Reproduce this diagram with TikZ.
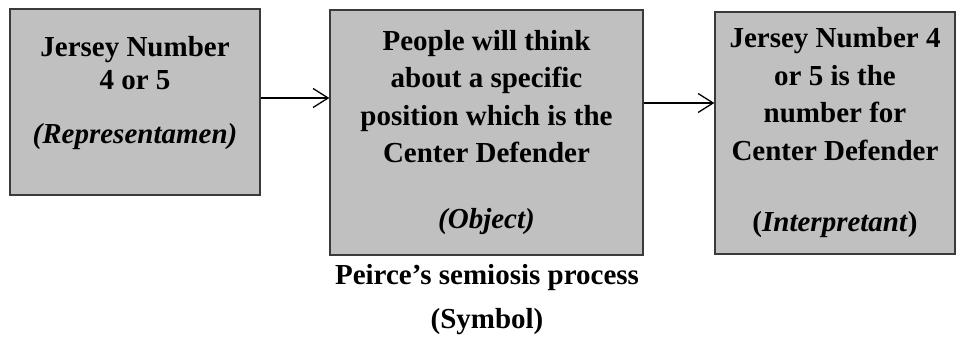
\documentclass[tikz,border=0pt]{standalone}
\usepackage{fontspec}
\setmainfont{Liberation Serif}
\usetikzlibrary{arrows.meta}
\definecolor{boxgray}{HTML}{C0C0C0}
\definecolor{boxline}{HTML}{3A3A3A}
\tikzset{
  signbox/.style={draw=boxline,line width=1.4pt,fill=boxgray,align=center,
    inner sep=0pt,font=\fontsize{29}{37.5}\selectfont\bfseries},
  flow/.style={line width=1.3pt,-{Straight Barb[length=15pt,width=19pt,line width=1.3pt]}},
  caption/.style={font=\fontsize{29}{36}\selectfont\bfseries}
}
\begin{document}
\begin{tikzpicture}[x=1pt,y=1pt]
\useasboundingbox (0,0) rectangle (965,343);
% the three parts of the sign
\node[signbox,minimum width=250pt,minimum height=186pt,text depth=25pt] (repr) at (135,241)
  {Jersey Number\\[-4pt]4 or 5\\[16pt]\textit{(Representamen)}};
\node[signbox,minimum width=313pt,minimum height=245pt] (obj) at (486.5,210.5)
  {People will think\\about a specific\\position which is the\\Center Defender\\[28pt]\textit{(Object)}};
\node[signbox,minimum width=240pt,minimum height=242pt] (interp) at (835,210)
  {Jersey Number 4\\or 5 is the\\number for\\Center Defender\\[34pt](\textit{Interpretant})};

% arrows
\draw[flow] (repr.east |- 0,245) -- (obj.west |- 0,245);
\draw[flow] (obj.east |- 0,240) -- (interp.west |- 0,240);

% caption
\node[caption] (title) at (487,65) {Peirce’s semiosis process};
\node[caption] (kind) at (487,21) {(Symbol)};
\end{tikzpicture}
\end{document}
